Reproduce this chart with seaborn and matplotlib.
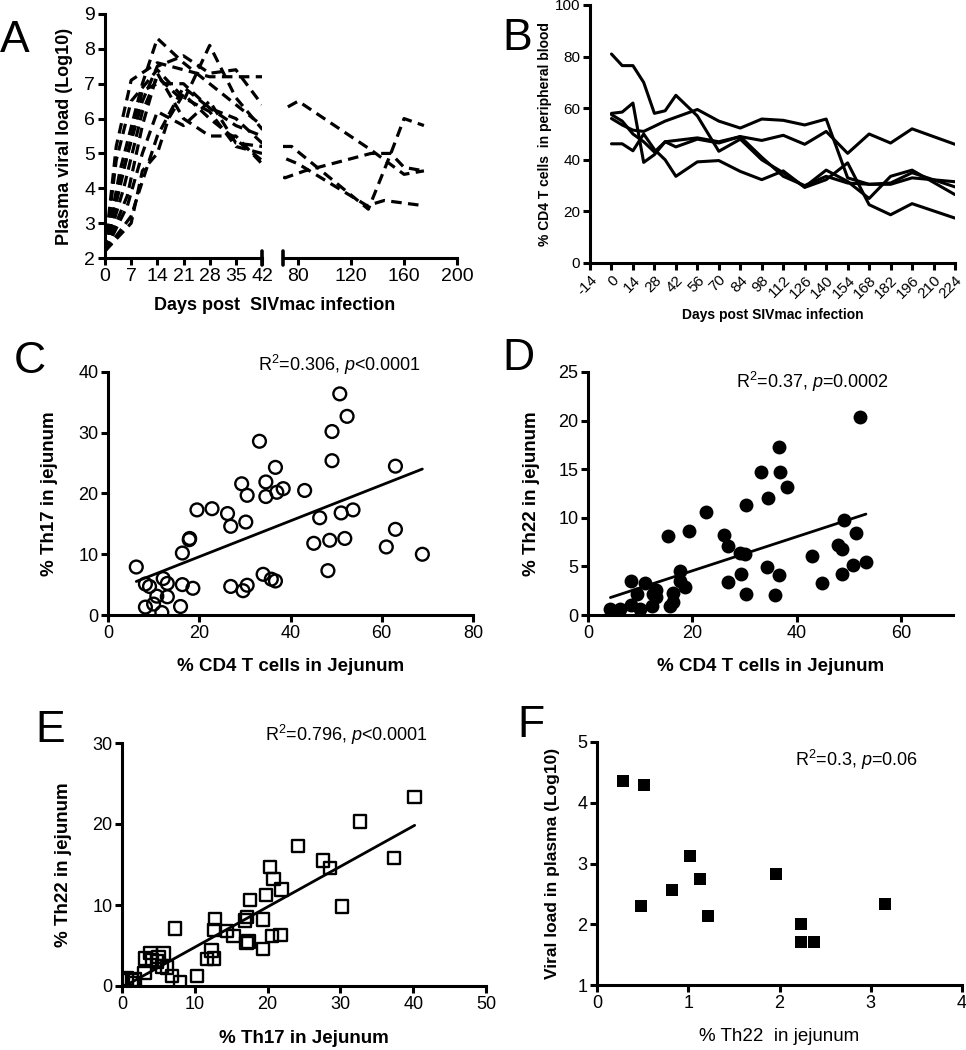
import numpy as np
import pandas as pd
import matplotlib
matplotlib.use("Agg")
import matplotlib.pyplot as plt
import seaborn as sns

# ---- panel A: plasma viral load (log10), one list pair per animal ----
m1_day = [0, 3, 7, 14, 21, 28, 35, 42, 70]
m1_vl = [2.2, 5.2, 7.1, 7.6, 7.4, 7.2, 7.2, 7.2, 7.2]
m2_day = [0, 4, 10, 14, 21, 28, 35, 42]
m2_vl = [2.2, 4.5, 7.0, 8.3, 7.6, 7.0, 6.4, 5.8]
m3_day = [0, 4, 10, 14, 21, 28, 35, 42]
m3_vl = [2.2, 4.2, 6.5, 7.5, 7.8, 7.3, 7.4, 6.4]
m4_day = [0, 5, 10, 14, 21, 28, 35, 42, 80, 135, 160, 175]
m4_vl = [2.2, 4.0, 6.2, 7.2, 6.5, 8.1, 6.6, 5.7, 6.5, 5.1, 4.4, 4.5]
m5_day = [0, 6, 10, 14, 21, 28, 35, 42]
m5_vl = [2.2, 3.8, 5.8, 7.3, 6.0, 5.5, 5.5, 4.7]
m6_day = [0, 6, 10, 14, 21, 28, 35, 42, 75, 133, 150, 160, 175]
m6_vl = [2.2, 3.5, 5.0, 6.2, 5.8, 6.5, 5.3, 5.2, 5.2, 3.4, 5.0, 6.0, 5.8]
m7_day = [0, 7, 10, 14, 17, 21, 28, 35, 42, 70, 85, 135, 150, 160, 175]
m7_vl = [2.2, 3.0, 4.5, 5.0, 6.0, 6.7, 6.0, 5.4, 4.8, 4.3, 4.5, 5.0, 5.0, 4.6, 4.5]
m8_day = [0, 7, 10, 14, 21, 28, 35, 42, 80, 132, 145, 175]
m8_vl = [2.2, 3.2, 4.2, 5.5, 6.9, 6.3, 6.0, 5.3, 4.7, 3.5, 3.65, 3.5]
m9_day = [0, 5, 10, 14, 21, 28, 35, 42]
m9_vl = [2.2, 4.5, 6.8, 7.0, 7.0, 6.3, 5.8, 5.5]
m10_day = [0, 3, 7, 14, 21, 28, 35, 42]
m10_vl = [2.2, 4.8, 6.5, 7.4, 6.6, 6.2, 5.2, 5.0]

# ---- panel B: % CD4 T cells in peripheral blood ----
cd4_days = [0, 7, 14, 21, 28, 35, 42, 56, 70, 84, 98, 112, 126, 140, 154, 168, 182, 196, 224]
cd4_m1 = [81, 76.5, 76.5, 70, 58, 59, 65, 57, 43.3, 48, 40, 35, 29.5, 36, 31.6, 25, 33.6, 36, 26.5]
cd4_m2 = [58, 58.5, 62, 39, 42, 47, 45, 48, 46.5, 49, 47.5, 49.5, 46, 51, 42.5, 50, 46.5, 52, 46]
cd4_m3 = [56, 53.5, 51.5, 51, 53, 55, 56.5, 59.5, 55, 52.3, 55.8, 55.3, 53.5, 55.8, 33, 30.5, 30.5, 33, 31.5]
cd4_m4 = [46.2, 46.2, 43.5, 50, 44, 40, 33.6, 39.2, 39.7, 35.5, 32.3, 35.7, 29.3, 32.3, 38.8, 22.6, 18.7, 23, 17.4]
cd4_m5 = [57.5, 55, 50, 47, 43, 47, 47.5, 48.5, 47, 49, 41, 33.6, 30, 33.6, 31, 30.5, 31, 35, 29.5]

# ---- panel C: % CD4 vs % Th17 in jejunum ----
c_cd4 = [6.2, 8.2, 9.1, 8.2, 10.0, 10.7, 11.8, 12.1, 13.0, 13.0, 15.9, 16.3, 16.3, 17.8,
         17.9, 18.6, 19.5, 22.8, 26.2, 26.9, 26.9, 29.6, 30.5, 29.3, 30.5, 30.2, 33.2, 34.0,
         34.6, 34.6, 35.8, 36.7, 36.7, 37.0, 38.4, 43.1, 45.1, 46.4, 48.2, 48.6, 49.1, 49.1,
         50.8, 51.1, 51.9, 52.4, 53.7, 61.0, 63.0, 63.0, 68.9]
c_th17 = [7.9, 5.1, 4.7, 1.3, 1.8, 3.1, 0.4, 6.0, 5.2, 3.0, 1.4, 5.0, 10.2, 12.4,
          12.6, 4.4, 17.3, 17.5, 16.7, 14.6, 4.7, 4.0, 4.9, 21.6, 19.7, 15.3, 28.6, 6.7,
          21.9, 19.5, 5.9, 5.6, 24.3, 20.2, 20.8, 20.5, 11.8, 16.0, 7.3, 12.3, 25.4, 30.2,
          36.4, 16.8, 12.6, 32.7, 17.3, 11.2, 14.1, 24.5, 10.0]

# ---- panel D: % CD4 vs % Th22 in jejunum ----
d_cd4 = [4.3, 6.2, 8.3, 8.3, 9.4, 10.0, 11.0, 12.2, 12.5, 13.0, 13.0, 15.3, 15.7, 16.3,
         16.3, 17.7, 17.7, 18.6, 19.4, 22.7, 26.1, 26.9, 26.9, 29.4, 29.1, 30.2, 30.3, 30.3,
         33.2, 34.4, 34.5, 35.8, 36.6, 36.8, 36.7, 38.2, 42.9, 44.8, 47.9, 48.7, 48.7, 49.0,
         50.9, 51.4, 52.2, 53.3]
d_th22 = [0.6, 0.6, 3.5, 1.0, 2.2, 0.6, 3.3, 0.9, 2.2, 1.9, 2.6, 8.1, 0.9, 1.3,
          2.3, 4.5, 3.5, 2.9, 8.6, 10.6, 8.2, 7.1, 3.4, 4.2, 6.4, 6.3, 11.3, 2.2,
          14.7, 4.9, 12.0, 2.1, 17.3, 14.7, 4.1, 13.2, 6.1, 3.3, 7.2, 6.8, 4.2, 9.8,
          5.1, 8.4, 20.4, 5.5]

# ---- panel E: % Th17 vs % Th22 in jejunum ----
e_th17 = [0.0, 0.7, 1.4, 1.6, 1.8, 3.1, 3.2, 3.9, 4.1, 4.8, 5.0, 5.7, 5.5, 6.2, 6.9,
          7.3, 8.0, 10.3, 11.7, 12.3, 12.6, 12.8, 12.6, 14.4, 15.3, 16.9, 17.2, 17.1, 17.4,
          17.6, 19.4, 19.4, 19.8, 20.3, 20.8, 20.6, 21.9, 21.8, 24.2, 27.6, 28.6, 30.2,
          32.7, 37.4, 40.2]
e_th22 = [0.7, 0.9, 0.7, 0.4, 0.8, 1.6, 3.4, 4.1, 3.2, 3.0, 3.6, 4.0, 2.4, 2.3, 1.2,
          7.1, 0.5, 1.2, 3.3, 4.4, 3.4, 8.3, 6.9, 6.8, 6.2, 8.1, 8.5, 5.3, 5.5,
          10.6, 8.2, 4.6, 11.2, 14.7, 13.2, 6.2, 11.9, 6.3, 17.3, 15.5, 14.6, 9.8,
          20.3, 15.8, 23.3]

# ---- panel F: % Th22 vs plasma viral load ----
f_th22 = [0.29, 0.52, 0.48, 0.82, 1.02, 1.13, 1.22, 1.96, 2.24, 2.24, 2.38, 3.16]
f_vl = [4.35, 4.29, 2.30, 2.56, 3.13, 2.74, 2.14, 2.82, 2.00, 1.70, 1.70, 2.33]

sns.set_style("ticks", {"axes.edgecolor": "black", "xtick.color": "black",
                        "ytick.color": "black", "text.color": "black",
                        "axes.labelcolor": "black"})
plt.rcParams["font.family"] = ["Liberation Sans", "DejaVu Sans"]
plt.rcParams["mathtext.fontset"] = "custom"
plt.rcParams["mathtext.rm"] = "Liberation Sans"
plt.rcParams["mathtext.it"] = "Liberation Sans:italic"
plt.rcParams["axes.linewidth"] = 2.2
plt.rcParams["axes.unicode_minus"] = False

W, H = 966, 1050
fig = plt.figure(figsize=(9.66, 10.5), dpi=100)


def box(x0, y0, x1, y1):
    # pixel box -> figure fraction rect
    return [x0 / W, 1 - y1 / H, (x1 - x0) / W, (y1 - y0) / H]


def style(ax, size):
    sns.despine(ax=ax)
    ax.tick_params(labelsize=size, width=2.2, length=5, direction="out", pad=2)


def letter(s, x, y):
    fig.text(x / W, 1 - y / H, s, fontsize=32, ha="left", va="baseline")


# ================= A =================
vl_day = [m1_day, m2_day, m3_day, m4_day, m5_day, m6_day, m7_day, m8_day, m9_day, m10_day]
vl_val = [m1_vl, m2_vl, m3_vl, m4_vl, m5_vl, m6_vl, m7_vl, m8_vl, m9_vl, m10_vl]
rows = []
for k, (dd, vv) in enumerate(zip(vl_day, vl_val)):
    for d, v in zip(dd, vv):
        rows.append((k, d, v))
vl_df = pd.DataFrame(rows, columns=["animal", "day", "vl"])

axA1 = fig.add_axes(box(105, 14, 262, 258))
axA2 = fig.add_axes(box(283, 14, 457, 258), sharey=axA1)
for ax in (axA1, axA2):
    sns.lineplot(data=vl_df, x="day", y="vl", units="animal", estimator=None,
                 color="black", lw=2.3, ax=ax, legend=False)
    for ln in ax.lines:
        ln.set_dashes([3.3, 2.0])
    style(ax, 14)
    ax.set_xlabel("")
    ax.set_ylabel("")
axA1.set_xlim(0, 42)
axA1.set_xticks([0, 7, 14, 21, 28, 35, 42])
axA1.set_ylim(2, 9)
axA1.set_yticks(range(2, 10))
axA2.set_xlim(68.5, 200)
axA2.set_xticks([80, 120, 160, 200])
axA2.spines["left"].set_visible(False)
axA2.tick_params(left=False, labelleft=False)
axA1.plot([1, 1], [-0.03, 0.03], transform=axA1.transAxes, color="black",
          lw=2.6, clip_on=False)
axA2.plot([0, 0], [-0.03, 0.03], transform=axA2.transAxes, color="black",
          lw=2.6, clip_on=False)
axA1.set_ylabel("Plasma viral load (Log10)", fontsize=13, fontweight="bold")
axA1.yaxis.set_label_coords(-0.204, 0.5)
fig.text(275 / W, 1 - 305 / H, "Days post  SIVmac infection", fontsize=13,
         fontweight="bold", ha="center", va="center")
letter("A", 0, 52)

# ================= B =================
axB = fig.add_axes(box(590, 5, 955, 263))
for series in (cd4_m1, cd4_m2, cd4_m3, cd4_m4, cd4_m5):
    sns.lineplot(x=cd4_days, y=series, color="black", lw=2.2, ax=axB)
style(axB, 11)
axB.set_xlim(-14, 224)
axB.set_xticks(range(-14, 225, 14))
axB.set_ylim(0, 100)
axB.set_yticks(range(0, 101, 20))
plt.setp(axB.get_xticklabels(), rotation=45, ha="right", rotation_mode="anchor")
axB.set_ylabel("% CD4 T cells  in peripheral blood", fontsize=10, fontweight="bold")
axB.yaxis.set_label_coords(-0.104, 0.5)
axB.set_xlabel("Days post SIVmac infection", fontsize=10, fontweight="bold")
axB.xaxis.set_label_coords(0.5, -0.174)
letter("B", 502, 50)

# ================= C-F =================
line_kws = {"color": "black", "lw": 2.0}


def corr_panel(ax, x, y, marker, filled, size):
    if filled:
        skw = {"s": size, "linewidths": 0, "alpha": 1, "color": "black"}
    else:
        skw = {"s": size, "facecolors": "none", "edgecolors": "black",
               "linewidths": 1.7, "alpha": 1}
    sns.regplot(x=x, y=y, ax=ax, ci=None, marker=marker, scatter_kws=skw,
                line_kws=line_kws, truncate=True)


axC = fig.add_axes(box(108, 372, 473, 615))
corr_panel(axC, c_cd4, c_th17, "o", False, 85)
style(axC, 13)
axC.set_xlim(0, 80)
axC.set_xticks([0, 20, 40, 60, 80])
axC.set_ylim(0, 40)
axC.set_yticks([0, 10, 20, 30, 40])
axC.set_xlabel("% CD4 T cells in Jejunum", fontsize=13.5, fontweight="bold")
axC.xaxis.set_label_coords(0.5, -0.177)
axC.set_ylabel("% Th17 in jejunum", fontsize=13.5, fontweight="bold")
axC.yaxis.set_label_coords(-0.137, 0.5)
axC.text(0.633, 1.03, "R$^2$=0.306, $p$<0.0001", transform=axC.transAxes,
         fontsize=13, ha="center", va="center")
letter("C", 14, 373)

axD = fig.add_axes(box(588, 372, 953, 615))
corr_panel(axD, d_cd4, d_th22, "o", True, 100)
style(axD, 13)
axD.set_xlim(0, 70)
axD.set_xticks([0, 20, 40, 60])
axD.set_ylim(0, 25)
axD.set_yticks([0, 5, 10, 15, 20, 25])
axD.set_xlabel("% CD4 T cells in Jejunum", fontsize=13.5, fontweight="bold")
axD.xaxis.set_label_coords(0.5, -0.177)
axD.set_ylabel("% Th22 in jejunum", fontsize=13.5, fontweight="bold")
axD.yaxis.set_label_coords(-0.132, 0.5)
axD.text(0.616, 0.959, "R$^2$=0.37, $p$=0.0002", transform=axD.transAxes,
         fontsize=13, ha="center", va="center")
letter("D", 502, 370)

axE = fig.add_axes(box(122, 743, 486, 986))
corr_panel(axE, e_th17, e_th22, "s", False, 80)
style(axE, 13)
axE.set_xlim(0, 50)
axE.set_xticks([0, 10, 20, 30, 40, 50])
axE.set_ylim(0, 30)
axE.set_yticks([0, 10, 20, 30])
axE.set_xlabel("% Th17 in Jejunum", fontsize=13.5, fontweight="bold")
axE.xaxis.set_label_coords(0.5, -0.181)
axE.set_ylabel("% Th22 in jejunum", fontsize=13.5, fontweight="bold")
axE.yaxis.set_label_coords(-0.137, 0.5)
axE.text(0.618, 1.033, "R$^2$=0.796, $p$<0.0001", transform=axE.transAxes,
         fontsize=13, ha="center", va="center")
letter("E", 35, 742)

axF = fig.add_axes(box(597, 742, 962, 985))
sns.scatterplot(x=f_th22, y=f_vl, marker="s", color="black", s=75,
                linewidth=0, ax=axF)
style(axF, 13)
axF.set_xlim(0, 4)
axF.set_xticks([0, 1, 2, 3, 4])
axF.set_ylim(1, 5)
axF.set_yticks([1, 2, 3, 4, 5])
axF.set_xlabel("% Th22  in jejunum", fontsize=13.5)
axF.xaxis.set_label_coords(0.5, -0.177)
axF.set_ylabel("Viral load in plasma (Log10)", fontsize=12.5, fontweight="bold")
axF.yaxis.set_label_coords(-0.101, 0.5)
axF.text(0.712, 0.926, "R$^2$=0.3, $p$=0.06", transform=axF.transAxes,
         fontsize=13, ha="center", va="center")
letter("F", 517, 737)

fig.savefig("out.png", dpi=100)
